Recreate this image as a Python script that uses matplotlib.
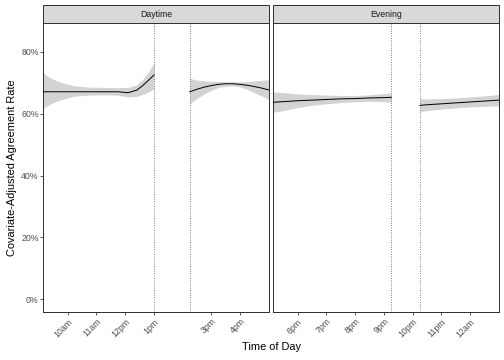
import matplotlib
matplotlib.use("Agg")
import matplotlib.pyplot as plt
from matplotlib.patches import Rectangle

plt.rcParams['font.family'] = ['Liberation Sans', 'DejaVu Sans']

# ---- data (hours of day; values in %) ----
panels = ["Daytime", "Evening"]

day1_x = [9.15, 9.4, 9.75, 10.25, 10.75, 11.25, 11.75, 12.1, 12.4, 12.6, 12.8, 13.0]
day1_fit = [67.1, 67.1, 67.1, 67.1, 67.1, 67.1, 67.1, 66.8, 67.6, 69.0, 70.7, 72.5]
day1_hi = [73.2, 71.5, 70.2, 69.0, 68.6, 68.5, 68.5, 68.5, 69.3, 71.0, 73.3, 76.5]
day1_lo = [61.8, 63.2, 64.5, 65.7, 66.0, 66.1, 66.0, 65.4, 65.6, 66.2, 67.0, 68.0]

day2_x = [14.25, 14.5, 14.75, 15.0, 15.25, 15.5, 15.75, 16.0, 16.25, 16.5, 16.75, 17.0]
day2_fit = [67.1, 67.9, 68.6, 69.1, 69.5, 69.7, 69.7, 69.5, 69.2, 68.8, 68.3, 67.7]
day2_hi = [71.4, 70.9, 70.6, 70.5, 70.4, 70.3, 70.3, 70.3, 70.4, 70.6, 70.8, 71.0]
day2_lo = [63.3, 64.9, 66.4, 67.6, 68.5, 68.9, 69.0, 68.7, 67.9, 66.8, 65.8, 64.6]

eve1_x = [17.15, 17.5, 18.0, 18.5, 19.0, 19.5, 20.0, 20.5, 21.0, 21.25]
eve1_fit = [63.7, 63.9, 64.2, 64.4, 64.6, 64.8, 64.9, 65.1, 65.2, 65.3]
eve1_hi = [67.1, 66.8, 66.4, 66.2, 66.0, 65.9, 65.9, 66.1, 66.5, 66.8]
eve1_lo = [60.5, 61.0, 62.0, 62.7, 63.2, 63.6, 63.9, 64.0, 63.9, 63.7]

eve2_x = [22.25, 22.5, 23.0, 23.5, 24.0, 24.5, 25.0]
eve2_fit = [62.7, 62.9, 63.2, 63.5, 63.8, 64.1, 64.4]
eve2_hi = [64.8, 64.8, 64.9, 65.1, 65.4, 65.8, 66.2]
eve2_lo = [60.6, 61.0, 61.5, 61.9, 62.2, 62.4, 62.5]

day_breaks = [13.0, 14.25]
eve_breaks = [21.25, 22.25]

day_ticks = [10, 11, 12, 13, 15, 16]
day_labels = ["10am", "11am", "12pm", "1pm", "3pm", "4pm"]
eve_ticks = [18, 19, 20, 21, 22, 23, 24]
eve_labels = ["6pm", "7pm", "8pm", "9pm", "10pm", "11pm", "12am"]

y_ticks = [0, 20, 40, 60, 80]
y_labels = ["0%", "20%", "40%", "60%", "80%"]

# ---- layout ----
W, H = 504, 360
fig = plt.figure(figsize=(W / 72, H / 72), dpi=72)

def px_axes(x0, x1, ytop, ybot):
    return fig.add_axes([x0 / W, 1 - ybot / H, (x1 - x0) / W, (ybot - ytop) / H])

ax1 = px_axes(43.3, 268.7, 23.3, 312.3)
ax2 = px_axes(273.3, 499.0, 23.3, 312.3)

band_col = "#D3D3D3"
edge_col = "#333333"

segs = {
    0: [(day1_x, day1_fit, day1_lo, day1_hi), (day2_x, day2_fit, day2_lo, day2_hi)],
    1: [(eve1_x, eve1_fit, eve1_lo, eve1_hi), (eve2_x, eve2_fit, eve2_lo, eve2_hi)],
}
breaks = {0: day_breaks, 1: eve_breaks}
xlims = {0: (9.15, 17.0), 1: (17.15, 25.0)}
ticks = {0: (day_ticks, day_labels), 1: (eve_ticks, eve_labels)}

for i, ax in enumerate([ax1, ax2]):
    for (x, f, lo, hi) in segs[i]:
        ax.fill_between(x, lo, hi, color=band_col, lw=0, zorder=1)
        ax.plot(x, f, color="black", lw=1.0, zorder=3)
    for b in breaks[i]:
        ax.axvline(b, color="#444444", lw=0.8, ls=(0, (1, 2)), zorder=2)
    ax.set_xlim(*xlims[i])
    ax.set_ylim(-4.25, 89.25)
    ax.set_yticks(y_ticks)
    t, l = ticks[i]
    ax.set_xticks(t)
    ax.set_xticklabels(l, rotation=45, ha="right", va="top",
                       rotation_mode="anchor", fontsize=8.8, color="#4D4D4D")
    ax.tick_params(axis="both", length=2.75, width=0.8, color=edge_col, pad=2)
    for s in ax.spines.values():
        s.set_color(edge_col)
        s.set_linewidth(1.0)
    if i == 0:
        ax.set_yticklabels(y_labels, fontsize=8.8, color="#4D4D4D")
    else:
        ax.set_yticks([])
    # strip
    strip_h = (23.3 - 5.0) / (312.3 - 23.3)
    ax.add_patch(Rectangle((0, 1), 1, strip_h, transform=ax.transAxes,
                           facecolor="#D9D9D9", edgecolor=edge_col, lw=1.0,
                           clip_on=False, zorder=5))
    ax.text(0.5, 1 + strip_h / 2, panels[i], transform=ax.transAxes,
            ha="center", va="center", fontsize=8.8, color="#1A1A1A", zorder=6)

fig.text(271 / W, 1 - 347 / H, "Time of Day", ha="center", va="center",
         fontsize=11, color="black")
fig.text(12 / W, 1 - 168 / H, "Covariate-Adjusted Agreement Rate", ha="center",
         va="center", rotation=90, fontsize=11, color="black")

fig.savefig("out.png", dpi=72, facecolor="white")
